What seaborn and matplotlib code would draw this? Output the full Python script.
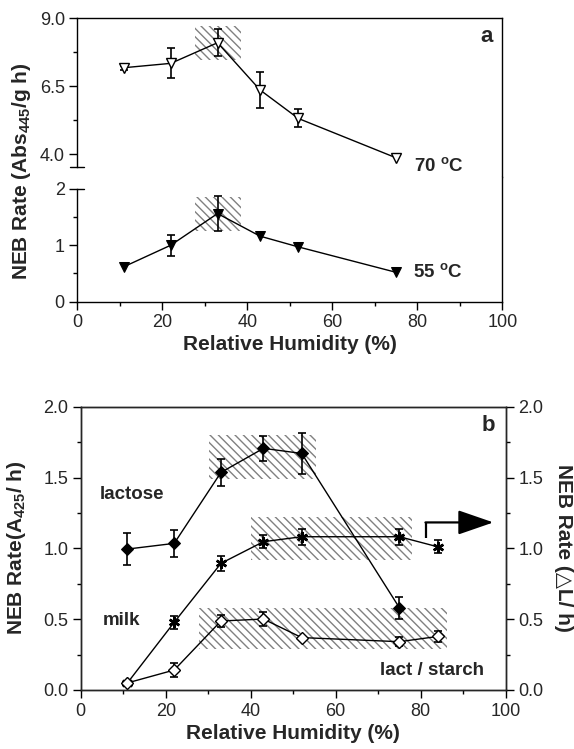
import matplotlib
matplotlib.use('Agg')
import numpy as np
import matplotlib.pyplot as plt
import seaborn as sns
from matplotlib.patches import Rectangle
from matplotlib.ticker import MultipleLocator, FixedLocator

# ---- panel a: NEB rate vs RH at two temperatures ----
rh_a = [11, 22, 33, 43, 52, 75]
rate_70 = [7.18, 7.34, 8.10, 6.36, 5.31, 3.86]
err_70 = [0.08, 0.55, 0.50, 0.66, 0.33, 0.0]
rate_55 = [0.62, 1.00, 1.56, 1.16, 0.97, 0.52]
err_55 = [0.0, 0.185, 0.31, 0.0, 0.0, 0.0]
# hatched "maximum" regions (x0, x1, y0, y1)
box_70 = (27.7, 38.5, 7.46, 8.72)
box_55 = (27.7, 38.5, 1.25, 1.86)

# ---- panel b: lactose / milk / lactose-starch ----
rh_lac = [11, 22, 33, 43, 52, 75]
lactose = [0.995, 1.035, 1.536, 1.706, 1.670, 0.58]
err_lac = [0.113, 0.098, 0.094, 0.086, 0.145, 0.077]
rh_b = [11, 22, 33, 43, 52, 75, 84]
milk = [0.05, 0.478, 0.894, 1.047, 1.082, 1.082, 1.011]
err_milk = [0.0, 0.044, 0.053, 0.047, 0.057, 0.057, 0.045]
starch = [0.05, 0.141, 0.487, 0.501, 0.37, 0.341, 0.378]
err_starch = [0.0, 0.052, 0.039, 0.047, 0.0, 0.03, 0.037]
boxes_b = [(30.2, 55.4, 1.49, 1.80), (40.0, 77.9, 0.92, 1.22), (27.9, 86.3, 0.29, 0.58)]
arrow_x = [81.3, 97.1]
arrow_y = [1.07, 1.183]

sns.set_style('ticks')
plt.rcParams['font.family'] = ['Liberation Sans', 'DejaVu Sans']
plt.rcParams['mathtext.fontset'] = 'custom'
plt.rcParams['mathtext.rm'] = 'Liberation Sans'
plt.rcParams['mathtext.bf'] = 'Liberation Sans:bold'
plt.rcParams['mathtext.it'] = 'Liberation Sans:italic'
plt.rcParams['hatch.linewidth'] = 1.0
plt.rcParams['axes.linewidth'] = 1.0

W, H = 574, 749
fig = plt.figure(figsize=(W / 100, H / 100), dpi=100)


def place(l, t, r, b):
    return [l / W, 1 - b / H, (r - l) / W, (b - t) / H]


ax_up = fig.add_axes(place(77.3, 18.3, 502.3, 177))
ax_lo = fig.add_axes(place(77.3, 177, 502.3, 301.7))
ax_b = fig.add_axes(place(80.7, 406.7, 505.7, 690))

tick_kw = dict(direction='out', length=5.5, width=1, labelsize=13, pad=3.5, color='black')
minor_kw = dict(direction='out', length=3, width=1, color='black')


def hatch_box(ax, box):
    x0, x1, y0, y1 = box
    ax.add_patch(Rectangle((x0, y0), x1 - x0, y1 - y0, fill=False, hatch='\\\\\\\\',
                           edgecolor='0.5', lw=0, zorder=0.5))


def errs(ax, x, y, e):
    x, y, e = np.array(x), np.array(y), np.array(e)
    m = e > 0
    ax.errorbar(x[m], y[m], yerr=e[m], fmt='none', ecolor='black', elinewidth=1.2,
                capsize=3.2, capthick=1.2, zorder=3)


# ---------- panel a ----------
for ax in (ax_up, ax_lo):
    ax.set_xlim(0, 100)
    ax.tick_params(axis='both', which='major', **tick_kw)
    ax.tick_params(axis='both', which='minor', **minor_kw)
    for s in ax.spines.values():
        s.set_color('black')

ax_up.set_ylim(3.153, 9.0)
ax_lo.set_ylim(0, 2.207)

hatch_box(ax_up, box_70)
hatch_box(ax_lo, box_55)

sns.lineplot(x=rh_a, y=rate_70, ax=ax_up, color='black', lw=1, marker='v', markersize=7.5,
             markerfacecolor='white', markeredgecolor='black', markeredgewidth=1, zorder=4)
errs(ax_up, rh_a, rate_70, err_70)
sns.lineplot(x=rh_a, y=rate_55, ax=ax_lo, color='black', lw=1, marker='v', markersize=7.5,
             markerfacecolor='black', markeredgecolor='black', zorder=4)
errs(ax_lo, rh_a, rate_55, err_55)

ax_up.spines['bottom'].set_visible(False)
ax_up.spines['left'].set_bounds(3.53, 9.0)
ax_up.tick_params(axis='x', which='both', bottom=False, labelbottom=False)
ax_up.set_yticks([4.0, 6.5, 9.0])
ax_up.set_yticklabels(['4.0', '6.5', '9.0'])
ax_up.yaxis.set_minor_locator(FixedLocator([5.25, 7.75]))
ax_up.plot([-1.8, 1.6], [3.53, 3.53], color='black', lw=1, clip_on=False)

ax_lo.spines['top'].set_visible(False)
ax_lo.spines['left'].set_bounds(0, 2)
ax_lo.set_yticks([0, 1, 2])
ax_lo.set_yticklabels(['0', '1', '2'])
ax_lo.yaxis.set_minor_locator(FixedLocator([0.5, 1.5]))
ax_lo.set_xticks([0, 20, 40, 60, 80, 100])
ax_lo.xaxis.set_minor_locator(MultipleLocator(10))
ax_lo.plot([0, 1.6], [2, 2], color='black', lw=1, clip_on=False)
ax_lo.set_xlabel('Relative Humidity (%)', fontsize=15, fontweight='bold', labelpad=3)

ax_up.text(0.963, 0.884, 'a', transform=ax_up.transAxes, fontsize=16, fontweight='bold',
           ha='center', va='center')
ax_up.text(85.1, 3.57, '70 $\\mathbf{^o}$C', fontsize=13.5, fontweight='bold', ha='center', va='center')
ax_lo.text(84.8, 0.53, '55 $\\mathbf{^o}$C', fontsize=13.5, fontweight='bold', ha='center', va='center')
fig.text(21.7 / W, 1 - 171 / H, 'NEB Rate (Abs$_{\\mathbf{445}}$/g h)', rotation=90,
         fontsize=15, fontweight='bold', ha='center', va='center')

# ---------- panel b ----------
ax_b.set_xlim(0, 100)
ax_b.set_ylim(0, 2.0)
for box in boxes_b:
    hatch_box(ax_b, box)

sns.lineplot(x=rh_lac, y=lactose, ax=ax_b, color='black', lw=1, marker='D', markersize=6,
             markerfacecolor='black', markeredgecolor='black', zorder=4)
errs(ax_b, rh_lac, lactose, err_lac)
sns.lineplot(x=rh_b, y=milk, ax=ax_b, color='black', lw=1, marker=(6, 2, 0), markersize=8,
             markeredgewidth=1.8, markeredgecolor='black', zorder=4)
errs(ax_b, rh_b, milk, err_milk)
sns.lineplot(x=rh_b, y=starch, ax=ax_b, color='black', lw=1, marker='D', markersize=6,
             markerfacecolor='white', markeredgecolor='black', markeredgewidth=1, zorder=4)
errs(ax_b, rh_b, starch, err_starch)

# elbow arrow pointing to the right axis (milk)
ax_b.plot([arrow_x[0], arrow_x[0]], [arrow_y[0], arrow_y[1]], color='black', lw=1.6,
          solid_capstyle='butt')
ax_b.annotate('', xy=(arrow_x[1], arrow_y[1]), xytext=(arrow_x[0] - 0.18, arrow_y[1]),
              arrowprops=dict(arrowstyle='-|>,head_length=1.1,head_width=0.38', mutation_scale=20,
                              lw=1.6, color='black', shrinkA=0, shrinkB=0))

ax_b.set_xticks([0, 20, 40, 60, 80, 100])
ax_b.xaxis.set_minor_locator(MultipleLocator(10))
ax_b.set_yticks([0, 0.5, 1.0, 1.5, 2.0])
ax_b.set_yticklabels(['0.0', '0.5', '1.0', '1.5', '2.0'])
ax_b.yaxis.set_minor_locator(MultipleLocator(0.25))
ax_b.tick_params(axis='both', which='major', **tick_kw)
ax_b.tick_params(axis='both', which='minor', **minor_kw)
for s in ax_b.spines.values():
    s.set_color('black')
ax_b.set_xlabel('Relative Humidity (%)', fontsize=15, fontweight='bold', labelpad=3)

ax_r = ax_b.twinx()
ax_r.set_ylim(0, 2.0)
ax_r.set_yticks([0, 0.5, 1.0, 1.5, 2.0])
ax_r.set_yticklabels(['0.0', '0.5', '1.0', '1.5', '2.0'])
ax_r.yaxis.set_minor_locator(MultipleLocator(0.25))
ax_r.tick_params(axis='y', which='major', **tick_kw)
ax_r.tick_params(axis='y', which='minor', **minor_kw)

ax_b.text(12.0, 1.381, 'lactose', fontsize=13.5, fontweight='bold', ha='center', va='center')
ax_b.text(9.5, 0.494, 'milk', fontsize=13.5, fontweight='bold', ha='center', va='center')
ax_b.text(70.4, 0.141, 'lact / starch', fontsize=13.5, fontweight='bold', ha='left', va='center')
ax_b.text(96.0, 1.866, 'b', fontsize=16, fontweight='bold', ha='center', va='center')

fig.text(16.7 / W, 1 - 548 / H, 'NEB Rate(A$_{\\mathbf{425}}$/ h)', rotation=90,
         fontsize=15, fontweight='bold', ha='center', va='center')
fig.text(563.5 / W, 1 - 548 / H, 'NEB Rate (△L/ h)', rotation=270,
         fontsize=15, fontweight='bold', ha='center', va='center')

fig.savefig('out.png', dpi=100)
